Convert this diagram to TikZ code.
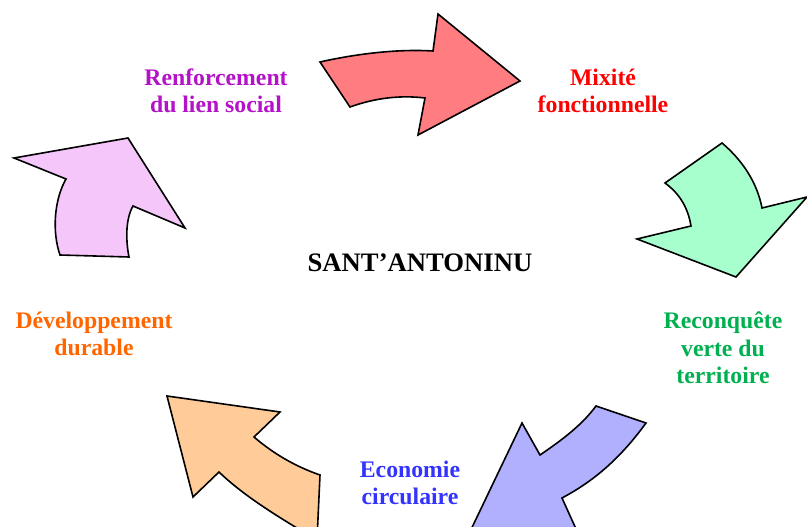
\documentclass[tikz,border=0pt]{standalone}
\usepackage{fontspec}
\setmainfont{Liberation Serif}
\definecolor{fred}{HTML}{FF7C80}
\definecolor{fgreen}{HTML}{A6FFCC}
\definecolor{fblue}{HTML}{B0B0FF}
\definecolor{forange}{HTML}{FFCC99}
\definecolor{fpink}{HTML}{F4C6FA}
\definecolor{tpurple}{HTML}{B412C8}
\definecolor{tred}{HTML}{FF0000}
\definecolor{tgreen}{HTML}{00B050}
\definecolor{tblue}{HTML}{3333FF}
\definecolor{torange}{HTML}{FF6600}
\begin{document}
\begin{tikzpicture}[x=0.75pt,y=-0.75pt,
  arrowshape/.style={draw=black,line width=1.2pt,line join=miter},
  lbl/.style={font=\fontsize{17.8}{20.5}\selectfont\bfseries,align=center,inner sep=0pt},
  ctr/.style={font=\fontsize{20}{24}\selectfont\bfseries,inner sep=0pt}]
\useasboundingbox (0,0) rectangle (807,527);
\clip (0,0) rectangle (807,527);
% red arrow
\path[arrowshape,fill=fred] (320,62) .. controls (360,53) and (400,49) .. (433,51)
  -- (438,14) -- (520,81) -- (418,135) -- (425,98)
  .. controls (400,95) and (375,98) .. (350,107) -- cycle;
% green arrow
\path[arrowshape,fill=fgreen] (722,143) .. controls (742,160) and (757,182) .. (762,208)
  -- (807,197) -- (736,277) -- (637,239) -- (691,226)
  .. controls (688,208) and (680,194) .. (665,183) -- cycle;
% blue arrow
\path[arrowshape,fill=fblue] (596,406) -- (646,423)
  .. controls (622,456) and (596,480) .. (562,498)
  -- (581,540) -- (466,540) -- (522,423) -- (540,455)
  .. controls (562,440) and (582,425) .. (596,406) -- cycle;
% orange arrow
\path[arrowshape,fill=forange] (167,396) -- (280,412) -- (254,437)
  .. controls (275,455) and (297,467) .. (320,475)
  -- (317,540) .. controls (280,518) and (245,497) .. (219,472)
  -- (193,497) -- cycle;
% pink arrow
\path[arrowshape,fill=fpink] (14,158) -- (128,138) -- (185,228) -- (133,206)
  .. controls (125,220) and (126,242) .. (129,257)
  -- (60,255) .. controls (52,232) and (54,200) .. (66,179) -- cycle;
% labels
\node[ctr] (center) at (420,263) {SANT’ANTONINU};
\node[lbl,text=tpurple] (social) at (216,91) {Renforcement\\du lien social};
\node[lbl,text=tred] (mixite) at (603,91) {Mixité\\fonctionnelle};
\node[lbl,text=tgreen] (verte) at (723,348) {Reconquête\\verte du\\territoire};
\node[lbl,text=tblue] (eco) at (410,483) {Economie\\circulaire};
\node[lbl,text=torange] (dev) at (94,334) {Développement\\durable};
\end{tikzpicture}
\end{document}
